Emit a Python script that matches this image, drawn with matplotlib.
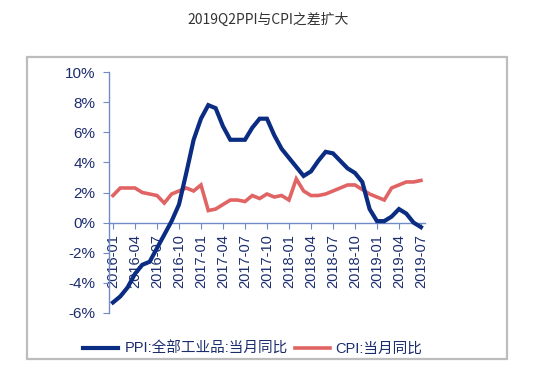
import matplotlib
matplotlib.use("Agg")
import matplotlib.pyplot as plt
from matplotlib.patches import Rectangle

months = [f"{y}-{m:02d}" for y in range(2016, 2020) for m in range(1, 13)][:43]
ppi = [-5.3, -4.9, -4.3, -3.4, -2.8, -2.6, -1.7, -0.8, 0.1, 1.2, 3.3, 5.5,
       6.9, 7.8, 7.6, 6.4, 5.5, 5.5, 5.5, 6.3, 6.9, 6.9, 5.8, 4.9,
       4.3, 3.7, 3.1, 3.4, 4.1, 4.7, 4.6, 4.1, 3.6, 3.3, 2.7, 0.9,
       0.1, 0.1, 0.4, 0.9, 0.6, 0.0, -0.3]
cpi = [1.8, 2.3, 2.3, 2.3, 2.0, 1.9, 1.8, 1.3, 1.9, 2.1, 2.3, 2.1,
       2.5, 0.8, 0.9, 1.2, 1.5, 1.5, 1.4, 1.8, 1.6, 1.9, 1.7, 1.8,
       1.5, 2.9, 2.1, 1.8, 1.8, 1.9, 2.1, 2.3, 2.5, 2.5, 2.2, 1.9,
       1.7, 1.5, 2.3, 2.5, 2.7, 2.7, 2.8]
yticks = [-6, -4, -2, 0, 2, 4, 6, 8, 10]
title = "2019Q2PPI与CPI之差扩大"
ppi_label = "PPI:全部工业品:当月同比"
cpi_label = "CPI:当月同比"

W, H = 535, 374
fig = plt.figure(figsize=(W / 100, H / 100), dpi=100)
fig.patch.set_facecolor("white")

# outer gray frame
fig.patches.append(Rectangle((27 / W, 1 - 359 / H), (507 - 27) / W, (359 - 57) / H,
                             transform=fig.transFigure, fill=False,
                             edgecolor="#bdbdbd", linewidth=1.6))

fig.text(268 / W, 1 - 20 / H, title, ha="center", va="center", fontsize=10,
         color="#333333", family=["Noto Sans CJK SC", "DejaVu Sans"])

ax = fig.add_axes([109.3 / W, 1 - 313 / H, 315.3 / W, 241 / H])
x = list(range(len(months)))
navy = "#0a2c82"
red = "#e06464"
ax.plot(x, cpi, color=red, lw=2.6, solid_joinstyle="miter", label=cpi_label, zorder=3)
ax.plot(x, ppi, color=navy, lw=3.0, solid_joinstyle="miter", label=ppi_label, zorder=4)

ax.set_xlim(-0.5, len(months) - 0.5)
ax.set_ylim(-6, 10)
ax.set_yticks(yticks)
ax.set_yticklabels([f"{v}%" for v in yticks])
ax.set_xticks(x[::3])
ax.set_xticklabels(months[::3])

axis_col = "#6f8cc8"
for s in ["top", "right"]:
    ax.spines[s].set_visible(False)
ax.spines["bottom"].set_position(("data", 0))
ax.spines["left"].set_color(axis_col)
ax.spines["bottom"].set_color(axis_col)
ax.spines["left"].set_linewidth(1.0)
ax.spines["bottom"].set_linewidth(1.0)
ax.tick_params(axis="y", direction="out", length=4, color=axis_col, labelsize=11,
               labelcolor="#1c2d6e", pad=6)
ax.tick_params(axis="x", direction="out", length=4, color=axis_col, labelsize=10.5,
               labelcolor="#1c2d6e", pad=4, labelrotation=90)
for lab in ax.get_xticklabels() + ax.get_yticklabels():
    lab.set_family(["Liberation Sans", "DejaVu Sans"])
ax.set_facecolor("none")

h, l = ax.get_legend_handles_labels()
leg = fig.legend(h[::-1], l[::-1], loc="center", bbox_to_anchor=(253 / W, 1 - 349 / H),
                 ncol=2, frameon=False, handlelength=2.4, handletextpad=0.4,
                 columnspacing=0.5,
                 prop={"family": ["Liberation Sans Narrow", "Liberation Sans", "Noto Sans CJK SC"], "size": 10.5})
for t in leg.get_texts():
    t.set_color("#1c2d6e")

fig.savefig("out.png", dpi=100)
